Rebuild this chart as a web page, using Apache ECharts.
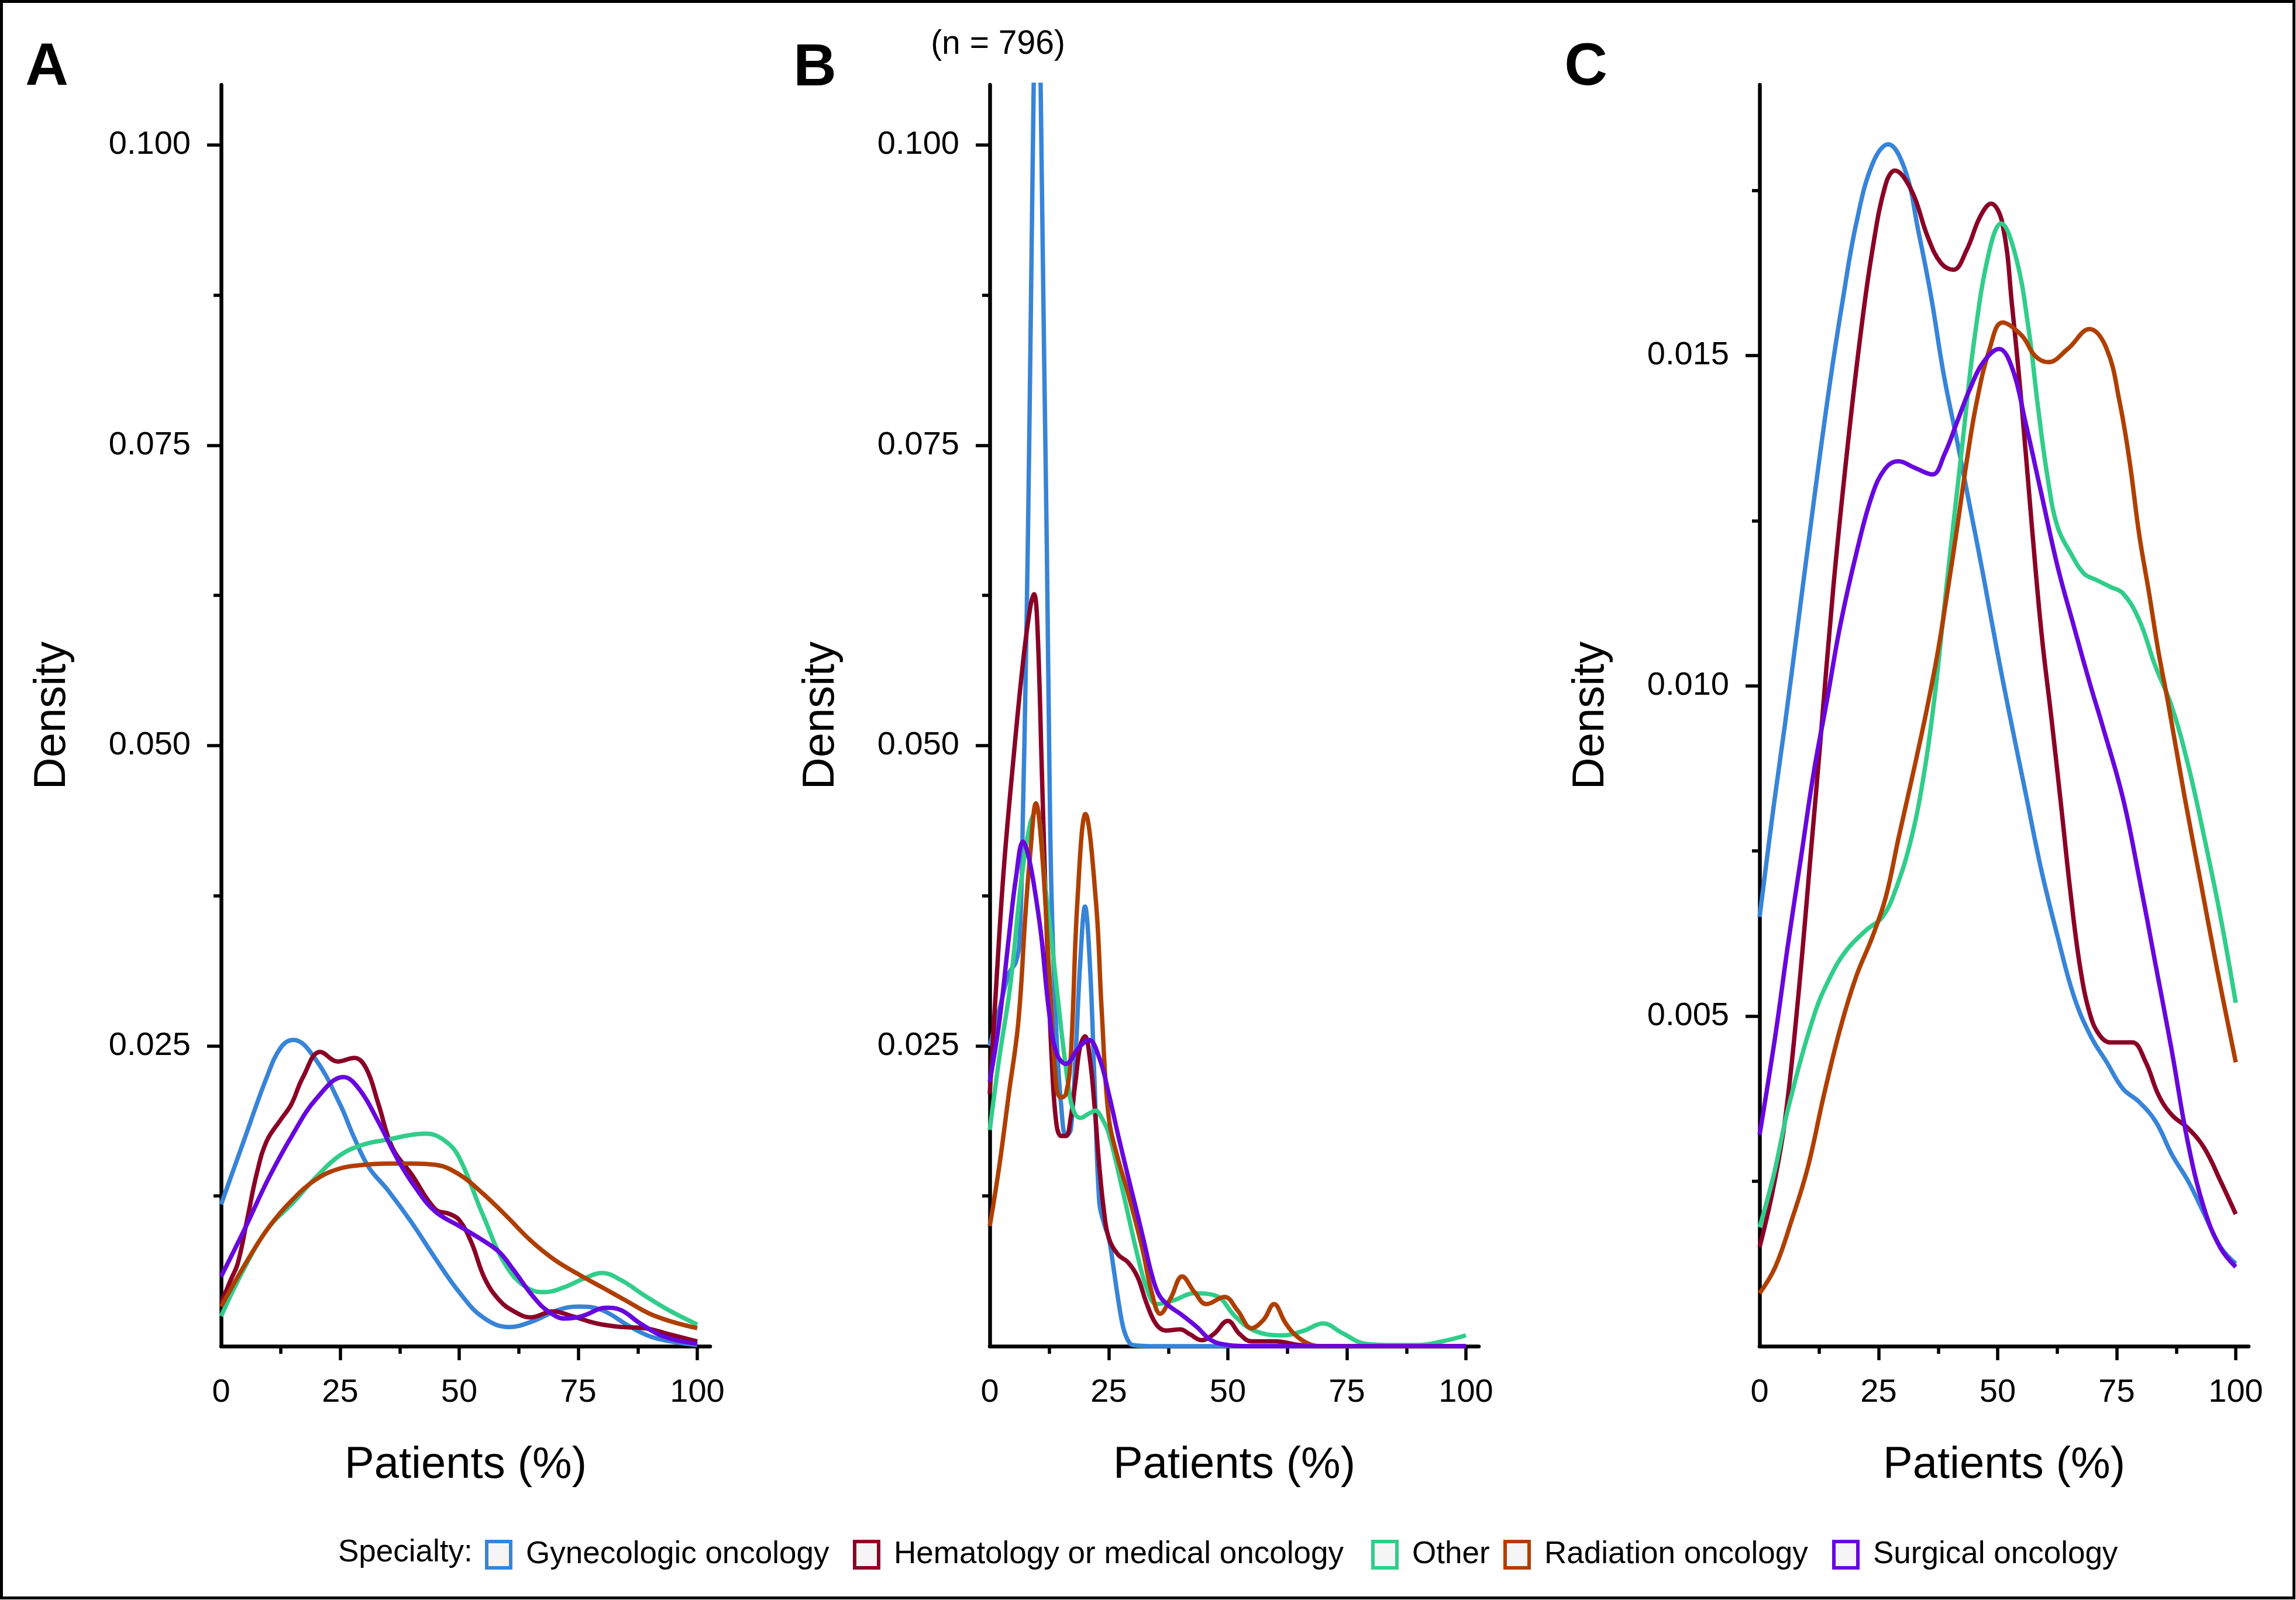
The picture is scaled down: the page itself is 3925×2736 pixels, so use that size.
<!DOCTYPE html>
<html><head><meta charset="utf-8">
<script src="https://cdn.jsdelivr.net/npm/echarts@6/dist/echarts.min.js"></script>
<style>html,body{margin:0;padding:0;background:#fff}#c{width:3925px;height:2736px}</style>
</head><body><div id="c"></div>
<script>
const specialties = ['Gynecologic oncology', 'Hematology or medical oncology', 'Other', 'Radiation oncology', 'Surgical oncology'];
const colors = ['#3784D8', '#8A0026', '#31CD8A', '#AF3F00', '#6806DE'];
const panelLetters = ['A', 'B', 'C'];
const xTickLabels = [0, 25, 50, 75, 100];
const xMajorTicks = [25, 50, 75, 100];
const xMinorTicks = [12.5, 37.5, 62.5, 87.5];
const yTicksAB = [0.025, 0.05, 0.075, 0.1];
const yMinorAB = [0.0125, 0.0375, 0.0625, 0.0875];
const yTicksC = [0.005, 0.01, 0.015];
const yMinorC = [0.0025, 0.0075, 0.0125, 0.0175];

// Panel A
const A_gyn = [[0,0.0118],[4.5,0.0168],[9.6,0.0224],[12.6,0.0249],[15.2,0.0255],[19.8,0.0239],[24.9,0.0202],[27.9,0.0174],[31,0.0149],[35,0.0130],[40,0.0103],[45,0.0073],[50,0.0045],[55,0.0024],[60.5,0.0016],[65.6,0.0021],[70.7,0.0030],[75,0.0033],[80,0.0030],[86,0.0016],[91,0.0007],[100,0.0001]];
const A_hem = [[0,0.0036],[2,0.0055],[3.5,0.0069],[5.5,0.0106],[7.5,0.0144],[9.6,0.0171],[12.6,0.0189],[14.7,0.0201],[17.2,0.0224],[20.8,0.0245],[24.5,0.0237],[28,0.0240],[30.5,0.0231],[33,0.0202],[36,0.0165],[40,0.0143],[45,0.0114],[48,0.0110],[50,0.0105],[52.5,0.0087],[55.4,0.0056],[58.5,0.0038],[61.5,0.0029],[65,0.0024],[69.7,0.0029],[73.7,0.0025],[78.8,0.0019],[84,0.0016],[89,0.0015],[94,0.0010],[100,0.0004]];
const A_oth = [[0,0.0025],[5,0.0066],[10,0.0099],[15,0.0119],[20,0.0141],[25,0.0159],[30,0.0168],[35,0.0172],[40,0.0176],[43,0.0177],[47,0.0171],[50,0.0157],[55,0.0109],[60,0.0066],[65,0.0047],[68,0.0045],[72,0.0049],[76,0.0056],[80,0.0061],[84,0.0055],[89,0.0042],[94,0.0030],[100,0.0018]];
const A_rad = [[0,0.0033],[5,0.0068],[10,0.0099],[15,0.0122],[20,0.0139],[25,0.0148],[30,0.0151],[35,0.0152],[40,0.0152],[45,0.0151],[50,0.0143],[55,0.0127],[60,0.0108],[65,0.0088],[70,0.0072],[75,0.0060],[80,0.0049],[85,0.0038],[90,0.0027],[95,0.0020],[100,0.0015]];
const A_sur = [[0,0.0058],[5,0.0098],[10,0.0140],[15,0.0176],[20,0.0206],[25.7,0.0224],[29,0.0214],[33,0.0187],[37,0.0156],[41,0.0131],[45,0.0112],[50,0.0100],[55,0.0088],[58.5,0.0078],[61.5,0.0063],[65.6,0.0041],[68.7,0.0029],[72.2,0.0023],[75.8,0.0025],[80.9,0.0032],[84,0.0030],[88,0.0019],[93,0.0008],[100,0.0002]];

// Panel B
const B_gyn = [[0,0.025],[2,0.028],[4,0.031],[5.5,0.032],[6.3,0.034],[7,0.045],[7.5,0.055],[8,0.067],[8.5,0.082],[9,0.098],[9.5,0.112],[10,0.12],[10.5,0.11],[11,0.095],[11.5,0.080],[12,0.066],[12.5,0.049],[13,0.037],[14,0.026],[15,0.020],[16,0.0175],[17,0.018],[18,0.024],[19,0.032],[20,0.0366],[21,0.032],[22,0.022],[23,0.012],[24,0.0102],[25,0.009],[26,0.0065],[27,0.0038],[28,0.0016],[29,0.0005],[30,0.0001],[35,0],[50,0],[75,0],[100,0]];
const B_hem = [[0,0.021],[1.5,0.031],[3,0.040],[5,0.049],[7,0.057],[8.5,0.0615],[9.3,0.0626],[10,0.060],[11,0.047],[12,0.034],[13,0.024],[14,0.0185],[15,0.0175],[16,0.0175],[17,0.019],[18,0.022],[19,0.025],[20,0.0258],[21,0.024],[22,0.020],[23,0.015],[24,0.0112],[25,0.009],[27,0.0076],[29,0.0070],[31,0.0058],[33,0.0035],[35,0.0018],[37,0.0013],[40,0.0014],[42,0.0010],[44.5,0.0005],[47,0.0010],[50,0.0021],[52.5,0.0010],[55,0.0004],[60,0.0004],[65,0.0001],[70,0],[85,0],[100,0]];
const B_oth = [[0,0.018],[2,0.024],[4.3,0.030],[6.7,0.039],[8.5,0.0435],[9.7,0.0446],[11.6,0.0385],[13.3,0.0326],[15,0.0264],[16.5,0.0217],[17.5,0.0197],[19,0.0190],[21,0.0194],[22.2,0.0196],[23.5,0.0190],[25,0.0177],[28,0.0128],[31,0.0076],[33,0.0048],[35,0.0035],[38.5,0.0038],[43,0.0044],[47.5,0.0042],[51.5,0.0025],[55.5,0.0013],[61.5,0.0009],[66,0.0013],[70,0.0019],[74,0.0011],[79,0.0002],[85,0.0001],[90,0.0001],[95,0.0004],[100,0.0009]];
const B_rad = [[0,0.010],[2,0.015],[4,0.021],[6,0.027],[7.5,0.036],[8.5,0.041],[9.7,0.0452],[11,0.041],[12.5,0.031],[14,0.0215],[15,0.0207],[16,0.021],[17,0.024],[18.4,0.037],[20.1,0.0443],[22.3,0.037],[23.5,0.028],[25,0.019],[27,0.0155],[29,0.0128],[32,0.0082],[34,0.0045],[35.8,0.0027],[38,0.0040],[40.4,0.0058],[43,0.0045],[45.5,0.0035],[49.3,0.0041],[52,0.0030],[55,0.0015],[57.5,0.0022],[59.7,0.0035],[62,0.0020],[64,0.0010],[67,0.0002],[70,0],[85,0],[100,0]];
const B_sur = [[0,0.022],[2,0.027],[4,0.034],[5.5,0.039],[7,0.042],[8,0.041],[9.2,0.0386],[10.8,0.0342],[12.4,0.028],[14,0.0244],[16,0.0235],[18.6,0.0248],[20.8,0.0255],[23,0.024],[25,0.021],[27,0.0175],[29,0.0142],[31,0.011],[32.5,0.0085],[34,0.006],[35.5,0.0043],[37.5,0.0034],[40,0.0027],[43.5,0.0016],[46.5,0.0005],[50,0.0001],[55,0],[75,0],[100,0]];

// Panel C
const C_gyn = [[0,0.0065],[3,0.0082],[5.3,0.0094],[8,0.0109],[11.4,0.0128],[14.8,0.0146],[17.6,0.0159],[20.3,0.0170],[23.7,0.0179],[27,0.0182],[30.6,0.0178],[33.3,0.0169],[36,0.0159],[38.7,0.0147],[41.5,0.0137],[44.2,0.0127],[46.9,0.0117],[49.7,0.0106],[52.4,0.0096],[55.8,0.0084],[59.2,0.0072],[62.6,0.0062],[66,0.0053],[69.5,0.0047],[72.9,0.0043],[76.3,0.0039],[79.7,0.0037],[83.2,0.0034],[86.6,0.0029],[90,0.0025],[93.4,0.0020],[96.8,0.0015],[100,0.00125]];
const C_hem = [[0,0.0015],[2.6,0.0023],[5.3,0.0034],[8,0.0052],[10.8,0.0075],[12.7,0.0091],[15.5,0.0115],[18.3,0.0135],[21,0.0152],[23.7,0.0166],[26.5,0.0176],[28.4,0.0178],[31.9,0.0175],[35.3,0.0168],[38.1,0.0164],[40.7,0.0163],[43.5,0.0166],[46.3,0.0171],[48.6,0.0173],[51,0.0170],[53.1,0.0157],[55.1,0.0142],[57.2,0.0124],[59.2,0.0108],[61.3,0.0095],[63.3,0.0082],[65.4,0.0068],[67.4,0.0057],[69.5,0.0050],[71.5,0.0047],[73.6,0.0046],[76.3,0.0046],[78.3,0.0046],[81.1,0.0043],[83.8,0.0038],[86.6,0.0035],[90,0.0033],[93.4,0.0030],[96.8,0.0025],[100,0.0020]];
const C_oth = [[0,0.0018],[3,0.0026],[6,0.0036],[11.4,0.0050],[14.9,0.0056],[18.3,0.0060],[22.4,0.0063],[25.8,0.0065],[28.5,0.0069],[31.9,0.0077],[34.6,0.0087],[36.7,0.0098],[39.4,0.0116],[42.5,0.0136],[45.2,0.0153],[48.3,0.0166],[50.7,0.0170],[53.8,0.0165],[56.5,0.0154],[58.5,0.0142],[60.6,0.0131],[62.6,0.0124],[65.4,0.0120],[68.1,0.0117],[70.8,0.0116],[73.6,0.0115],[76.3,0.0114],[79.7,0.0110],[83.1,0.0103],[86.5,0.0097],[90,0.0088],[93.4,0.0077],[96.8,0.0065],[100,0.0052]];
const C_rad = [[0,0.0008],[3.3,0.0012],[6.7,0.0019],[10.1,0.0027],[13.5,0.0038],[16.9,0.0048],[20.3,0.0056],[23.7,0.0062],[26.5,0.0068],[29.2,0.0077],[32,0.0086],[35,0.0096],[37.4,0.0105],[39.4,0.0114],[41.5,0.0124],[43.5,0.0134],[45.6,0.0143],[48.3,0.0151],[51,0.0155],[55.1,0.0153],[57.8,0.0150],[60.6,0.0149],[64.7,0.0151],[69.3,0.0154],[72.9,0.0151],[75.6,0.0143],[77.7,0.0134],[79.7,0.0123],[81.8,0.0114],[83.8,0.0105],[85.9,0.0097],[89.3,0.0083],[92.7,0.0070],[96.1,0.0057],[100,0.0043]];
const C_sur = [[0,0.0032],[3.3,0.0047],[6,0.0061],[8.7,0.0074],[11.4,0.0087],[14.2,0.0098],[16.9,0.0109],[20.3,0.0120],[23.7,0.0129],[26.5,0.0133],[29.1,0.0134],[32.6,0.0133],[36.3,0.0132],[38.8,0.0135],[41.5,0.0140],[44.2,0.0145],[47,0.0149],[50.3,0.0151],[53.1,0.0148],[55.8,0.0140],[59.2,0.0129],[62.6,0.0118],[66,0.0109],[69.5,0.0100],[72,0.0094],[76.3,0.0083],[79.7,0.0071],[83.1,0.0058],[86.5,0.0045],[89.9,0.0031],[93.3,0.0021],[96.7,0.0015],[100,0.0012]];

const panelData = [
  [A_gyn, A_hem, A_oth, A_rad, A_sur],
  [B_gyn, B_hem, B_oth, B_rad, B_sur],
  [C_gyn, C_hem, C_oth, C_rad, C_sur]
];

const FONT = "'Liberation Sans', Arial, Helvetica, sans-serif";
const gridLefts = [378, 1692, 3008];
const gridTop = 145, gridHeight = 2157, gridWidth = 836;
const xMax = 102.7;
const yMax = [0.105, 0.105, 0.0191];
const yInterval = [0.025, 0.025, 0.005];
const yMajor = [yTicksAB, yTicksAB, yTicksC];
const yMinor = [yMinorAB, yMinorAB, yMinorC];
const legendLefts = [829, 1458, 2344, 2570, 3132];
const letterPos = [[80, 117], [1393, 118], [2711, 117]];

const grid = gridLefts.map(l => ({left: l, top: gridTop, width: gridWidth, height: gridHeight}));

const axisLineStyle = {color: '#000', width: 6.5};
const tickStyle = {color: '#000', width: 5.5};

const xAxis = [];
const yAxis = [];
for (let i = 0; i < 3; i++) {
  xAxis.push({
    type: 'value', gridIndex: i, min: 0, max: xMax, interval: 25, position: 'bottom',
    axisLine: {show: true, onZero: false, lineStyle: axisLineStyle},
    axisTick: {show: true, customValues: xMajorTicks, length: 24, lineStyle: tickStyle},
    axisLabel: {show: true, customValues: xTickLabels, margin: 52, fontSize: 56, color: '#000', fontFamily: FONT,
                formatter: v => String(Math.round(v))},
    splitLine: {show: false},
    name: 'Patients (%)', nameLocation: 'middle', nameGap: 166,
    nameTextStyle: {fontSize: 76, color: '#000', fontFamily: FONT}
  });
  yAxis.push({
    type: 'value', gridIndex: i, min: 0, max: yMax[i], interval: yInterval[i], position: 'left',
    axisLine: {show: true, onZero: false, lineStyle: axisLineStyle},
    axisTick: {show: true, customValues: yMajor[i], length: 24, lineStyle: tickStyle},
    axisLabel: {show: true, customValues: yMajor[i], margin: 52, fontSize: 56, color: '#000', fontFamily: FONT,
                formatter: v => v.toFixed(3)},
    splitLine: {show: false},
    name: 'Density', nameLocation: 'middle', nameRotate: 90, nameGap: 250,
    nameTextStyle: {fontSize: 76, color: '#000', fontFamily: FONT}
  });
}
for (let i = 0; i < 3; i++) {
  xAxis.push({
    type: 'value', gridIndex: i, min: 0, max: xMax, interval: 25, position: 'bottom',
    axisLine: {show: false},
    axisTick: {show: true, customValues: xMinorTicks, length: 13, lineStyle: tickStyle},
    axisLabel: {show: false}, splitLine: {show: false}
  });
  yAxis.push({
    type: 'value', gridIndex: i, min: 0, max: yMax[i], interval: yInterval[i], position: 'left',
    axisLine: {show: false},
    axisTick: {show: true, customValues: yMinor[i], length: 13, lineStyle: tickStyle},
    axisLabel: {show: false}, splitLine: {show: false}
  });
}

const series = [];
for (let p = 0; p < 3; p++) {
  for (let s = 0; s < 5; s++) {
    series.push({
      type: 'line', name: specialties[s], xAxisIndex: p, yAxisIndex: p,
      data: panelData[p][s], showSymbol: false, smooth: 0.4, silent: true,
      lineStyle: {width: 7.5, color: colors[s]}, itemStyle: {color: colors[s]},
      z: 2 + s
    });
  }
}

const legend = specialties.map((name, i) => ({
  data: [{name: name, icon: 'rect', itemStyle: {color: '#f5f5f5', borderColor: colors[i], borderWidth: 6}}],
  left: legendLefts[i], top: 2632, itemWidth: 41, itemHeight: 45, padding: 0, selectedMode: false,
  textStyle: {fontSize: 53, color: '#000', fontFamily: FONT, padding: [0, 0, 0, 21]}
}));

const graphic = [
  {type: 'rect', shape: {x: 2.5, y: 2.5, width: 3919, height: 2730}, style: {fill: 'none', stroke: '#000', lineWidth: 5}, silent: true},
  {type: 'text', x: 578, y: 2655, style: {text: 'Specialty:', fontSize: 53, fontFamily: FONT, fill: '#000', align: 'left', verticalAlign: 'middle'}, silent: true},
  {type: 'text', x: 1706, y: 76, style: {text: '(n = 796)', fontSize: 57, fontFamily: FONT, fill: '#000', align: 'center', verticalAlign: 'middle'}, silent: true}
].concat(panelLetters.map((t, i) => ({
  type: 'text', x: letterPos[i][0], y: letterPos[i][1],
  style: {text: t, fontSize: 102, fontWeight: 'bold', fontFamily: FONT, fill: '#000', align: 'center', verticalAlign: 'middle'},
  silent: true
})));

const chart = echarts.init(document.getElementById('c'), null, {renderer: 'canvas', width: 3925, height: 2736});
chart.setOption({
  animation: false,
  backgroundColor: '#ffffff',
  grid: grid, xAxis: xAxis, yAxis: yAxis, series: series, legend: legend, graphic: graphic
});
</script>
</body></html>
